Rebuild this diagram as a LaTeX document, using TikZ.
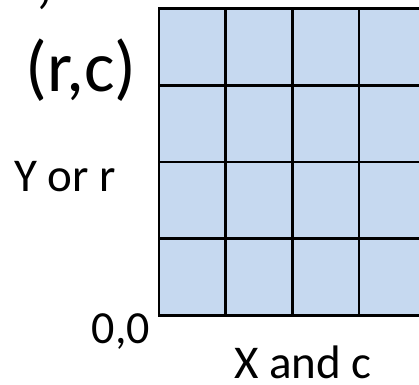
\documentclass[tikz,border=0pt]{standalone}
\usepackage{fontspec}
\setmainfont{Carlito}
\usetikzlibrary{positioning}
\definecolor{cellfill}{HTML}{C6D9F0}
\definecolor{gridline}{HTML}{000000}

\begin{document}
\begin{tikzpicture}[x=1pt, y=1pt,
      gridpen/.style={draw=gridline, line width=2.6pt, line cap=rect},
      lbl/.style={inner sep=0pt, font=\fontsize{47}{50}\selectfont, text=black},
      biglbl/.style={inner sep=0pt, font=\fontsize{72}{76}\selectfont, text=black}
    ]
      \useasboundingbox (0,0) rectangle (419,384);

      % grid of cells, cut at the right side
      \fill[cellfill] (159,68.5) rectangle (440,375.5);
      \foreach \i in {0,...,4} {
        \draw[gridpen] ({159+66.7*\i},68.5) -- ({159+66.7*\i},375.5);
      }
      \foreach \j in {0,...,4} {
        \draw[gridpen] (159,{68.5+76.75*\j}) -- (440,{68.5+76.75*\j});
      }

      % labels
      \node[biglbl] (topcut) at (44,384) [anchor=base] {,};
      \node[biglbl] (rc) at (81,314) {(r,c)};
      \node[lbl, anchor=base] (yr) at (65,193) {Y or r};
      \node[lbl, anchor=base, font=\fontsize{46}{50}\selectfont] (origin) at (121,41) {0,0};
      \node[lbl, anchor=base] (xc) at (303,6) {X and c};
    \end{tikzpicture}
\end{document}
